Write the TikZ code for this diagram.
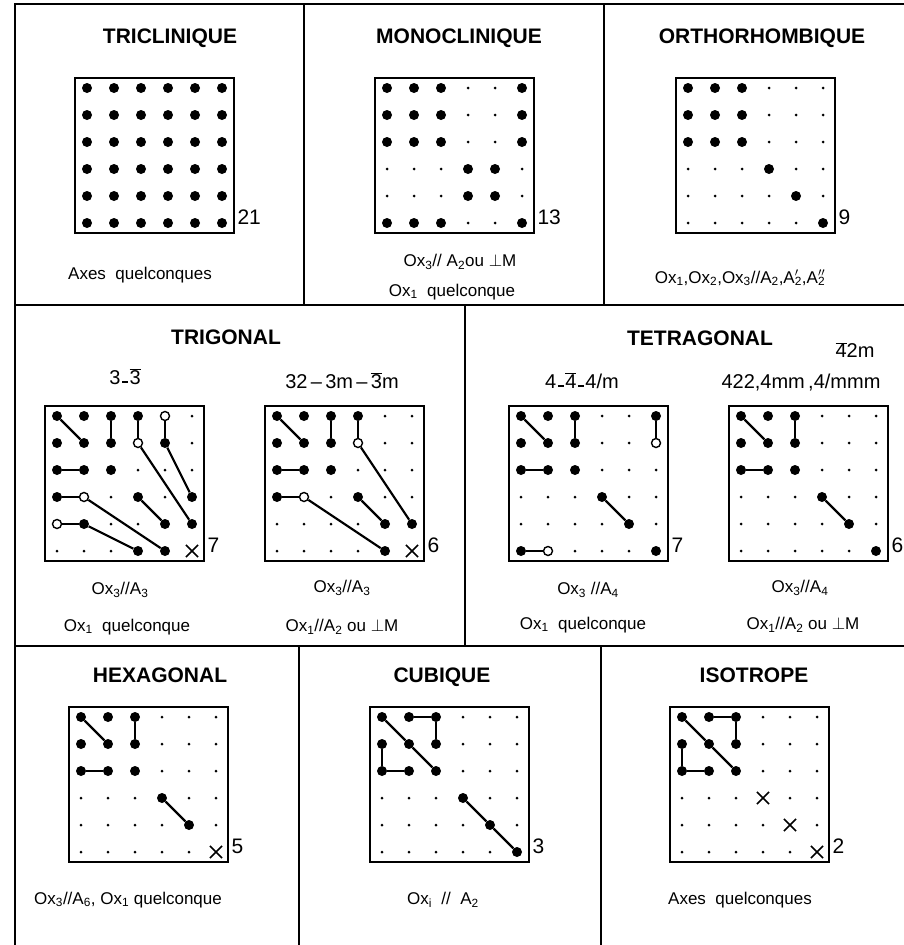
\documentclass[tikz,border=0pt]{standalone}
\usepackage{fontspec}
\setmainfont{Liberation Sans}
\usetikzlibrary{shapes.misc}

\newcommand\sub[1]{\textsubscript{#1}}
\newcommand\ovl[1]{$\overline{\mbox{#1}}$}
\newcommand\lowdash{\hspace{1.5pt}\rule[2pt]{6pt}{1.6pt}\hspace{1.5pt}}
\newcommand\dotgrid[4]{%
  \draw[boxline] ({#2-12},{#3-10}) rectangle ({#2+147},{#3+145});
  \foreach \row [count=\r] in {#4} {
    \foreach \t [count=\c] in \row
      \node[\t] (#1-\r-\c) at ({#2+27*(\c-1)},{#3+27*(\r-1)}) {};
  }
}

\tikzset{
  panelline/.style={line width=2pt},
  boxline/.style={line width=1.6pt},
  bd/.style={circle, fill, inner sep=0pt, minimum size=10pt},
  sd/.style={circle, fill, inner sep=0pt, minimum size=3pt},
  od/.style={circle, draw, fill=white, line width=1.4pt, inner sep=0pt, minimum size=9pt},
  xd/.style={cross out, draw, line width=1.6pt, inner sep=0pt, minimum size=10.5pt},
  link/.style={line width=2.2pt},
  ttl/.style={font=\fontsize{21}{24}\selectfont\bfseries, text height=15pt, text depth=4pt},
  cls/.style={font=\fontsize{20}{24}\selectfont},
  lbl/.style={font=\fontsize{17}{20}\selectfont},
  num/.style={font=\fontsize{21}{24}\selectfont, anchor=west},
}

\begin{document}
\begin{tikzpicture}[x=1pt,y=-1pt]
\useasboundingbox (0,0) rectangle (904,945);
\draw[panelline] (15,945) -- (15,4) -- (904,4);
\draw[panelline] (15,305) -- (904,305);
\draw[panelline] (15,646) -- (904,646);
\foreach \x/\ya/\yb in {304/4/305,604/4/305,465/305/646,299/646/945,601/646/945}
  \draw[panelline] (\x,\ya) -- (\x,\yb);

\foreach \n/\x/\y/\t in {tc/170/38/TRICLINIQUE, mc/459/38/MONOCLINIQUE, or/762/38/ORTHORHOMBIQUE,
  tg/226/339/TRIGONAL, tt/700/340/TETRAGONAL, hx/160/677/HEXAGONAL, cb/442/677/CUBIQUE, is/754/677/ISOTROPE}
  \node[ttl] (\n-title) at (\x,\y) {\t};

\dotgrid{tc}{87}{88}{{bd,bd,bd,bd,bd,bd},{bd,bd,bd,bd,bd,bd},{bd,bd,bd,bd,bd,bd},
  {bd,bd,bd,bd,bd,bd},{bd,bd,bd,bd,bd,bd},{bd,bd,bd,bd,bd,bd}}
\dotgrid{mc}{387}{88}{{bd,bd,bd,sd,sd,bd},{bd,bd,bd,sd,sd,bd},{bd,bd,bd,sd,sd,bd},
  {sd,sd,sd,bd,bd,sd},{sd,sd,sd,bd,bd,sd},{bd,bd,bd,sd,sd,bd}}
\dotgrid{or}{688}{88}{{bd,bd,bd,sd,sd,sd},{bd,bd,bd,sd,sd,sd},{bd,bd,bd,sd,sd,sd},
  {sd,sd,sd,bd,sd,sd},{sd,sd,sd,sd,bd,sd},{sd,sd,sd,sd,sd,bd}}
\dotgrid{tgA}{57}{416}{{bd,bd,bd,bd,od,sd},{bd,bd,bd,od,bd,sd},{bd,bd,bd,sd,sd,sd},
  {bd,od,sd,bd,sd,bd},{od,bd,sd,sd,bd,bd},{sd,sd,sd,bd,bd,xd}}
\dotgrid{tgB}{277}{416}{{bd,bd,bd,bd,sd,sd},{bd,bd,bd,od,sd,sd},{bd,bd,bd,sd,sd,sd},
  {bd,od,sd,bd,sd,sd},{sd,sd,sd,sd,bd,bd},{sd,sd,sd,sd,bd,xd}}
\dotgrid{ttA}{521}{416}{{bd,bd,bd,sd,sd,bd},{bd,bd,bd,sd,sd,od},{bd,bd,bd,sd,sd,sd},
  {sd,sd,sd,bd,sd,sd},{sd,sd,sd,sd,bd,sd},{bd,od,sd,sd,sd,bd}}
\dotgrid{ttB}{741}{416}{{bd,bd,bd,sd,sd,sd},{bd,bd,bd,sd,sd,sd},{bd,bd,bd,sd,sd,sd},
  {sd,sd,sd,bd,sd,sd},{sd,sd,sd,sd,bd,sd},{sd,sd,sd,sd,sd,bd}}
\dotgrid{hx}{81}{717}{{bd,bd,bd,sd,sd,sd},{bd,bd,bd,sd,sd,sd},{bd,bd,bd,sd,sd,sd},
  {sd,sd,sd,bd,sd,sd},{sd,sd,sd,sd,bd,sd},{sd,sd,sd,sd,sd,xd}}
\dotgrid{cb}{382}{717}{{bd,bd,bd,sd,sd,sd},{bd,bd,bd,sd,sd,sd},{bd,bd,bd,sd,sd,sd},
  {sd,sd,sd,bd,sd,sd},{sd,sd,sd,sd,bd,sd},{sd,sd,sd,sd,sd,bd}}
\dotgrid{is}{682}{717}{{bd,bd,bd,sd,sd,sd},{bd,bd,bd,sd,sd,sd},{bd,bd,bd,sd,sd,sd},
  {sd,sd,sd,xd,sd,sd},{sd,sd,sd,sd,xd,sd},{sd,sd,sd,sd,sd,xd}}

\foreach \a/\b in {1-1/2-2,1-3/2-3,1-4/2-4,1-5/2-5,3-1/3-2,4-1/4-2,5-1/5-2,2-4/5-6,2-5/4-6,4-2/6-5,5-2/6-4,4-4/5-5}
  \draw[link] (tgA-\a) -- (tgA-\b);
\foreach \a/\b in {1-1/2-2,1-3/2-3,1-4/2-4,3-1/3-2,4-1/4-2,2-4/5-6,4-2/6-5,4-4/5-5}
  \draw[link] (tgB-\a) -- (tgB-\b);
\foreach \a/\b in {1-1/2-2,1-3/2-3,1-6/2-6,3-1/3-2,4-4/5-5,6-1/6-2}
  \draw[link] (ttA-\a) -- (ttA-\b);
\foreach \g in {ttB,hx}
  \foreach \a/\b in {1-1/2-2,1-3/2-3,3-1/3-2,4-4/5-5}
    \draw[link] (\g-\a) -- (\g-\b);
\foreach \g in {cb,is} {
  \draw[link] (\g-1-1) -- (\g-2-2) -- (\g-3-3);
  \draw[link] (\g-1-2) -- (\g-1-3) -- (\g-2-3);
  \draw[link] (\g-2-1) -- (\g-3-1) -- (\g-3-2);
}
\draw[link] (cb-4-4) -- (cb-5-5) -- (cb-6-6);

\foreach \n/\x/\y/\t in {tc/87/88/21, mc/387/88/13, or/688/88/9, tgA/57/416/7, tgB/277/416/6,
  ttA/521/416/7, ttB/741/416/6, hx/81/717/5, cb/382/717/3, is/682/717/2}
  \node[num] (\n-count) at ({\x+147},{\y+129}) {\t};

\node[cls] (tgA-class) at (125,377) {3\lowdash\ovl{3}};
\node[cls] (tgB-class) at (342,381) {32\,--\,3m\,--\,\ovl{3}m};
\node[cls] (ttA-class) at (582,381) {4\lowdash\ovl{4}\lowdash4/m};
\node[cls] (ttB-class2) at (855,350) {\ovl{4}2m};
\node[cls, anchor=west] (ttB-class) at (718,383) {422,4mm\,,4/mmm};

\node[lbl] (tc-axes) at (140,275) {Axes\ \ quelconques};
\node[lbl] (mc-axis3) at (460,262) {Ox\sub{3}// A\sub{2}ou $\perp$M};
\node[lbl] (mc-axis1) at (452,292) {Ox\sub{1}\ \ quelconque};
\node[lbl] (or-axes) at (740,278) {Ox\sub{1},Ox\sub{2},Ox\sub{3}//A\sub{2},A\rlap{$^{\prime}$}\sub{2},A\rlap{$^{\prime\prime}$}\sub{2}};
\node[lbl] (tgA-axis3) at (120,590) {Ox\sub{3}//A\sub{3}};
\node[lbl] (tgA-axis1) at (127,627) {Ox\sub{1}\ \ quelconque};
\node[lbl] (tgB-axis3) at (342,588) {Ox\sub{3}//A\sub{3}};
\node[lbl] (tgB-axis1) at (342,627) {Ox\sub{1}//A\sub{2} ou $\perp$M};
\node[lbl] (ttA-axis3) at (588,590) {Ox\sub{3} //A\sub{4}};
\node[lbl] (ttA-axis1) at (583,625) {Ox\sub{1}\ \ quelconque};
\node[lbl] (ttB-axis3) at (800,588) {Ox\sub{3}//A\sub{4}};
\node[lbl] (ttB-axis1) at (803,625) {Ox\sub{1}//A\sub{2} ou $\perp$M};
\node[lbl] (hx-axes) at (128,900) {Ox\sub{3}//A\sub{6}, Ox\sub{1} quelconque};
\node[lbl] (cb-axes) at (443,900) {Ox\sub{i} \ // \ A\sub{2}};
\node[lbl] (is-axes) at (740,900) {Axes\ \ quelconques};
\end{tikzpicture}
\end{document}
